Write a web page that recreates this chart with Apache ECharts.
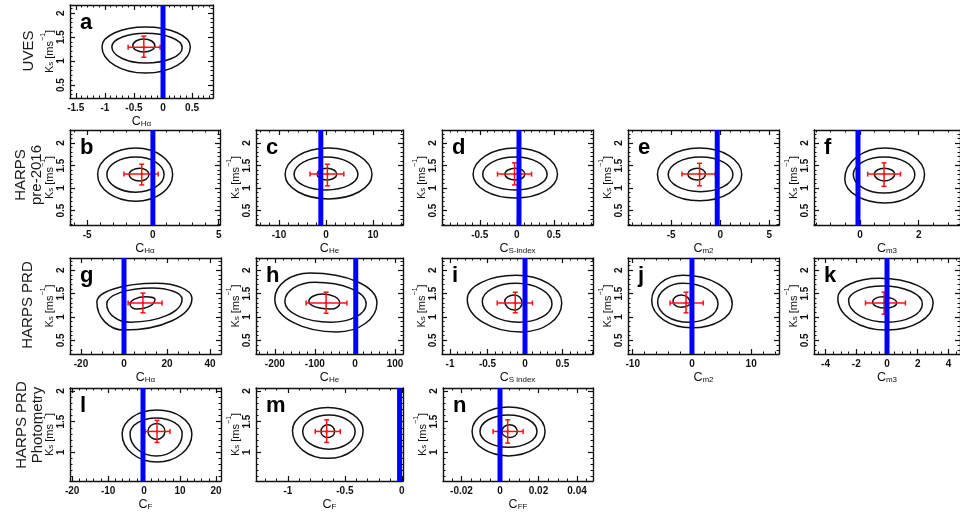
<!DOCTYPE html>
<html>
<head>
<meta charset="utf-8">
<script src="https://cdn.jsdelivr.net/npm/echarts@6/dist/echarts.min.js"></script>
<style>
  html, body { margin: 0; padding: 0; background: #fff; }
  #chart { width: 960px; height: 512px; }
</style>
</head>
<body>
<div id="chart"></div>
<script>
// ---- values read for each panel (a..n) ----
const panelLetters = ['a', 'b', 'c', 'd', 'e', 'f', 'g', 'h', 'i', 'j', 'k', 'l', 'm', 'n'];
const panelRow = [0, 1, 1, 1, 1, 1, 2, 2, 2, 2, 2, 3, 3, 3];
const rowTitles = [['UVES'], ['HARPS', 'pre-2016'], ['HARPS PRD'], ['HARPS PRD', 'Photometry']];
const xSubscripts = ['Hα', 'Hα', 'He', 'S-index', 'm2', 'm3', 'Hα', 'He', 'S index', 'm2', 'm3', 'F', 'F', 'FF'];

const xLimits = [
  [-1.6, 0.86], [-6.3, 5.1], [-14.9, 16.4], [-1.01, 1.03], [-9.4, 6.0], [-1.57, 3.41],
  [-25.1, 45.1], [-247, 120], [-1.107, 0.907], [-10.8, 14.7], [-4.75, 4.75],
  [-20.6, 21.4], [-1.28, 0.01], [-0.0296, 0.0483]
];
const xTickLabels = [
  [-1.5, -1, -0.5, 0, 0.5], [-5, 0, 5], [-10, 0, 10], [-0.5, 0, 0.5], [-5, 0, 5], [0, 2],
  [-20, 0, 20, 40], [-200, -100, 0, 100], [-1, -0.5, 0, 0.5], [-10, 0, 10], [-4, -2, 0, 2, 4],
  [-20, -10, 0, 10, 20], [-1, -0.5, 0], [-0.02, 0, 0.02, 0.04]
];
const xMinorSteps = [0.1, 1, 2, 0.1, 1, 0.5, 5, 20, 0.1, 2, 0.5, 2, 0.1, 0.005];

const yLimits = [[0.23, 2.17], [0.18, 2.29], [0.21, 2.26], [0.53, 2.05]];
const yTickLabels = [[0.5, 1, 1.5, 2], [0.5, 1, 1.5, 2], [0.5, 1, 1.5, 2], [1, 1.5, 2]];
const yMinorStep = 0.1;

// coefficient value of zero correlation (blue line)
const zeroLines = [0, 0, -1.1, 0.03, -0.3, -0.07, 0, 2, 0, 0, 0, -0.3, -0.02, 0];

// best estimate: [c, Ks, cLow, cHigh, KsLow, KsHigh]
const bestFit = [
  [-0.33, 1.29, -0.6, -0.05, 1.08, 1.52],
  [-0.85, 1.31, -2.2, 0.4, 1.07, 1.53],
  [0.3, 1.31, -3.4, 3.8, 1.05, 1.53],
  [-0.03, 1.31, -0.26, 0.2, 1.07, 1.56],
  [-2.1, 1.31, -3.9, -0.5, 1.05, 1.55],
  [0.82, 1.31, 0.26, 1.38, 1.04, 1.56],
  [8.8, 1.3, 1.9, 17.7, 1.09, 1.51],
  [-72, 1.3, -122, -20, 1.08, 1.53],
  [-0.13, 1.3, -0.37, 0.1, 1.09, 1.53],
  [-1.0, 1.3, -3.7, 1.9, 1.09, 1.53],
  [-0.19, 1.3, -1.4, 1.2, 1.06, 1.53],
  [3.6, 1.34, 0.3, 7.2, 1.16, 1.52],
  [-0.66, 1.34, -0.76, -0.54, 1.16, 1.53],
  [0.004, 1.34, -0.0036, 0.012, 1.15, 1.53]
];

// credible-region contours, extreme points: [xLeft, yLeft, xTop, yTop, xRight, yRight, xBottom, yBottom]
const contourOuter = [
  [-1.05, 1.3, -0.3, 1.71, 0.47, 1.3, -0.3, 0.75],
  [-4.2, 1.3, -1.3, 1.89, 1.5, 1.3, -1.3, 0.71],
  [-8.7, 1.3, 0.5, 1.89, 9.8, 1.3, 0.5, 0.76],
  [-0.59, 1.3, -0.02, 1.89, 0.55, 1.3, -0.02, 0.78],
  [-6.4, 1.3, -2.1, 1.89, 2.2, 1.3, -2.1, 0.72],
  [-0.52, 1.2, 0.85, 1.89, 2.2, 1.3, 0.85, 0.67],
  [-12.6, 1.32, 15, 1.72, 31.6, 1.4, 0, 0.72],
  [-200, 1.38, -112, 1.94, 55, 1.3, -45, 0.68],
  [-0.77, 1.38, -0.12, 1.89, 0.49, 1.3, -0.05, 0.68],
  [-6.8, 1.35, -1.5, 1.89, 6.8, 1.28, 0, 0.77],
  [-3.2, 1.4, -0.5, 1.83, 3.0, 1.3, 0, 0.72],
  [-6.1, 1.3, 3.6, 1.69, 13.3, 1.3, 3.6, 0.84],
  [-0.96, 1.35, -0.65, 1.73, -0.34, 1.35, -0.65, 0.9],
  [-0.0145, 1.34, 0.0045, 1.74, 0.0234, 1.34, 0.0045, 0.94]
];
const contourMiddle = [
  [-0.88, 1.3, -0.3, 1.58, 0.33, 1.28, -0.3, 0.96],
  [-3.5, 1.3, -1.3, 1.69, 0.85, 1.3, -1.3, 0.91],
  [-6.8, 1.3, 0, 1.69, 6.8, 1.3, 0, 0.96],
  [-0.46, 1.3, -0.02, 1.69, 0.41, 1.3, -0.02, 0.96],
  [-5.3, 1.3, -2.0, 1.69, 1.3, 1.3, -2.0, 0.92],
  [-0.23, 1.3, 0.82, 1.69, 1.87, 1.3, 0.82, 0.89],
  [-8, 1.28, 13, 1.62, 27, 1.38, 3, 0.89],
  [-175, 1.33, -100, 1.74, 28, 1.28, -60, 0.89],
  [-0.57, 1.33, -0.12, 1.72, 0.36, 1.28, -0.08, 0.89],
  [-5.8, 1.32, -1.5, 1.72, 4.4, 1.28, -0.5, 0.89],
  [-2.5, 1.35, -0.3, 1.66, 2.3, 1.28, 0, 0.89],
  [-3.9, 1.3, 3.4, 1.56, 10.6, 1.3, 3.4, 0.94],
  [-0.87, 1.34, -0.64, 1.61, -0.41, 1.34, -0.64, 1.05],
  [-0.0104, 1.34, 0.0044, 1.61, 0.0192, 1.34, 0.0044, 1.08]
];
const contourInner = [
  [-0.52, 1.32, -0.33, 1.46, -0.14, 1.32, -0.33, 1.19],
  [-1.8, 1.3, -1.0, 1.44, -0.3, 1.3, -1.0, 1.16],
  [-1.9, 1.31, 0.2, 1.44, 2.3, 1.31, 0.2, 1.18],
  [-0.16, 1.31, -0.02, 1.44, 0.11, 1.31, -0.02, 1.18],
  [-3.3, 1.31, -2.3, 1.44, -1.5, 1.31, -2.3, 1.18],
  [0.49, 1.31, 0.83, 1.44, 1.18, 1.31, 0.83, 1.16],
  [2.8, 1.27, 10, 1.43, 14.4, 1.38, 6, 1.17],
  [-115, 1.33, -80, 1.49, -38, 1.3, -60, 1.17],
  [-0.27, 1.33, -0.14, 1.47, -0.04, 1.3, -0.14, 1.15],
  [-3.2, 1.33, -1.8, 1.47, -0.3, 1.3, -1.8, 1.21],
  [-0.94, 1.32, -0.3, 1.43, 0.63, 1.3, -0.1, 1.19],
  [1.1, 1.34, 3.5, 1.47, 5.8, 1.34, 3.5, 1.21],
  [-0.71, 1.34, -0.65, 1.45, -0.59, 1.34, -0.65, 1.24],
  [0.001, 1.34, 0.005, 1.45, 0.009, 1.34, 0.005, 1.24]
];

// ---- layout of the panel frames: [left, top, width, height] in px ----
const frames = [
  [70, 5, 143, 93],
  [70, 130, 150, 95], [256, 130, 147, 95], [442, 130, 151, 95], [628, 130, 151, 95], [814, 130, 152, 95],
  [70, 258, 151, 96], [256, 258, 147, 96], [442, 258, 151, 96], [628, 258, 151, 96], [814, 258, 152, 96],
  [70, 388, 151, 94], [256, 388, 147, 94], [443, 388, 150, 94]
];
const rowTitlePos = [[29, 51], [29, 175], [28, 305], [30, 425]];

const FONT = '"Liberation Sans", Arial, Helvetica, sans-serif';
const INK = '#111';
const RED = '#ff1010';
const BLUE = '#0000ff';

function minorValues(lim, step) {
  const out = [];
  let v = Math.ceil(lim[0] / step - 1e-9);
  for (; v * step <= lim[1] + 1e-12; v++) out.push(+(v * step).toFixed(8));
  return out;
}

function frameAxes(grid, lim, majors, minors, side, withLabels, name, isY) {
  const base = {
    gridIndex: grid, type: 'value', min: lim[0], max: lim[1], position: side,
    splitLine: { show: false }, axisPointer: { show: false }, silent: true
  };
  const major = Object.assign({}, base, {
    axisLine: { show: true, onZero: false, lineStyle: { color: INK, width: 1.4 } },
    axisTick: { show: true, inside: true, length: 5, customValues: majors, lineStyle: { color: INK, width: 1.2 } },
    axisLabel: withLabels ? {
      show: true, customValues: majors, margin: isY ? 4 : 5, rotate: isY ? 90 : 0,
      fontFamily: FONT, fontSize: 10, fontWeight: 'bold', color: INK
    } : { show: false }
  });
  if (withLabels && name) {
    major.name = name.text;
    major.nameLocation = 'middle';
    major.nameGap = name.gap;
    major.nameRotate = isY ? 90 : 0;
    major.nameTextStyle = { fontFamily: FONT, color: INK, rich: name.rich };
  }
  const minor = Object.assign({}, base, {
    axisLine: { show: false, onZero: false },
    axisTick: { show: true, inside: true, length: 2.5, customValues: minors, lineStyle: { color: INK, width: 1 } },
    axisLabel: { show: false }
  });
  return [major, minor];
}

const xNameRich = {
  c: { fontFamily: FONT, fontSize: 12.5, lineHeight: 16, verticalAlign: 'bottom', color: INK },
  s: { fontFamily: FONT, fontSize: 8, lineHeight: 6, verticalAlign: 'bottom', color: INK }
};
const yNameRich = {
  k: { fontFamily: FONT, fontSize: 11, lineHeight: 16, verticalAlign: 'bottom', color: INK },
  s: { fontFamily: FONT, fontSize: 8, lineHeight: 6, verticalAlign: 'bottom', color: INK },
  p: { fontFamily: FONT, fontSize: 7, lineHeight: 7, verticalAlign: 'top', color: INK }
};
const yNameText = '{k|K}{s|s}{k| [ms}{p|−1}{k|]}';

// closed curve through the four extreme points of a contour
function renderContour(params, api) {
  const L = api.coord([api.value(0), api.value(1)]);
  const T = api.coord([api.value(2), api.value(3)]);
  const R = api.coord([api.value(4), api.value(5)]);
  const B = api.coord([api.value(6), api.value(7)]);
  const k = 0.5523;
  const f = (v) => v.toFixed(2);
  const d =
    'M' + f(L[0]) + ',' + f(L[1]) +
    ' C' + f(L[0]) + ',' + f(L[1] + k * (T[1] - L[1])) + ' ' + f(T[0] + k * (L[0] - T[0])) + ',' + f(T[1]) + ' ' + f(T[0]) + ',' + f(T[1]) +
    ' C' + f(T[0] + k * (R[0] - T[0])) + ',' + f(T[1]) + ' ' + f(R[0]) + ',' + f(R[1] + k * (T[1] - R[1])) + ' ' + f(R[0]) + ',' + f(R[1]) +
    ' C' + f(R[0]) + ',' + f(R[1] + k * (B[1] - R[1])) + ' ' + f(B[0] + k * (R[0] - B[0])) + ',' + f(B[1]) + ' ' + f(B[0]) + ',' + f(B[1]) +
    ' C' + f(B[0] + k * (L[0] - B[0])) + ',' + f(B[1]) + ' ' + f(L[0]) + ',' + f(L[1] + k * (B[1] - L[1])) + ' ' + f(L[0]) + ',' + f(L[1]) + ' Z';
  return { type: 'path', shape: { pathData: d }, style: { fill: 'none', stroke: INK, lineWidth: 1.5 } };
}

// red cross with capped error bars
function renderEstimate(params, api) {
  const c = api.coord([api.value(0), api.value(1)]);
  const xl = api.coord([api.value(2), api.value(1)]);
  const xh = api.coord([api.value(3), api.value(1)]);
  const yl = api.coord([api.value(0), api.value(4)]);
  const yh = api.coord([api.value(0), api.value(5)]);
  const st = { stroke: RED, lineWidth: 1.5 };
  const cap = 2.5;
  const seg = (x1, y1, x2, y2) => ({ type: 'line', shape: { x1, y1, x2, y2 }, style: st });
  return {
    type: 'group',
    children: [
      seg(xl[0], c[1], xh[0], c[1]),
      seg(c[0], yl[1], c[0], yh[1]),
      seg(xl[0], c[1] - cap, xl[0], c[1] + cap),
      seg(xh[0], c[1] - cap, xh[0], c[1] + cap),
      seg(c[0] - cap, yl[1], c[0] + cap, yl[1]),
      seg(c[0] - cap, yh[1], c[0] + cap, yh[1]),
      { type: 'circle', shape: { cx: c[0], cy: c[1], r: 1.3 }, style: { fill: RED } }
    ]
  };
}

// full-height blue line at the zero-correlation value
function renderZeroLine(params, api) {
  const cs = params.coordSys;
  const x = api.coord([api.value(0), api.value(1)])[0];
  return {
    type: 'line',
    shape: { x1: x, y1: cs.y, x2: x, y2: cs.y + cs.height },
    style: { stroke: BLUE, lineWidth: 5 }
  };
}

const grids = [], xAxes = [], yAxes = [], series = [], graphics = [];

panelLetters.forEach((letter, p) => {
  const fr = frames[p];
  const row = panelRow[p];
  grids.push({ left: fr[0], top: fr[1], width: fr[2], height: fr[3], containLabel: false, show: false });

  const xl = xLimits[p], yl = yLimits[row];
  const xMinor = minorValues(xl, xMinorSteps[p]);
  const yMinor = minorValues(yl, yMinorStep);

  const xName = { text: '{c|C}{s|' + xSubscripts[p] + '}', gap: 14, rich: xNameRich };
  const yName = { text: yNameText, gap: 14, rich: yNameRich };

  const bx = frameAxes(p, xl, xTickLabels[p], xMinor, 'bottom', true, xName, false);
  const tx = frameAxes(p, xl, xTickLabels[p], xMinor, 'top', false, null, false);
  const ly = frameAxes(p, yl, yTickLabels[row], yMinor, 'left', true, yName, true);
  const ry = frameAxes(p, yl, yTickLabels[row], yMinor, 'right', false, null, true);
  const xi = xAxes.length, yi = yAxes.length;
  xAxes.push(...bx, ...tx);
  yAxes.push(...ly, ...ry);

  series.push({
    type: 'custom', xAxisIndex: xi, yAxisIndex: yi, silent: true, z: 2,
    dimensions: ['xl', 'yl', 'xt', 'yt', 'xr', 'yr', 'xb', 'yb'],
    encode: { x: [0, 2, 4, 6], y: [1, 3, 5, 7] },
    renderItem: renderContour,
    data: [contourOuter[p], contourMiddle[p], contourInner[p]]
  });
  series.push({
    type: 'custom', xAxisIndex: xi, yAxisIndex: yi, silent: true, z: 3,
    dimensions: ['c', 'k', 'cl', 'ch', 'kl', 'kh'],
    encode: { x: [0, 2, 3], y: [1, 4, 5] },
    renderItem: renderEstimate,
    data: [bestFit[p]]
  });
  series.push({
    type: 'custom', xAxisIndex: xi, yAxisIndex: yi, silent: true, z: 4,
    renderItem: renderZeroLine,
    data: [[zeroLines[p], yl[0]]]
  });

  graphics.push({
    type: 'text', x: fr[0] + 10, y: fr[1] + 29, silent: true, z: 10,
    style: {
      text: letter, font: 'bold 22px ' + FONT, fill: '#000',
      align: 'left', verticalAlign: 'bottom', textAlign: 'left', textVerticalAlign: 'bottom'
    }
  });
});

rowTitles.forEach((lines, r) => {
  graphics.push({
    type: 'text', x: rowTitlePos[r][0], y: rowTitlePos[r][1], rotation: Math.PI / 2, silent: true,
    style: {
      text: lines.join('\n'), font: '15px ' + FONT, fill: '#1a1a1a', lineHeight: 16,
      align: 'center', verticalAlign: 'middle', textAlign: 'center', textVerticalAlign: 'middle'
    }
  });
});

const chart = echarts.init(document.getElementById('chart'), null, { renderer: 'canvas' });
chart.setOption({
  backgroundColor: '#ffffff',
  animation: false,
  grid: grids,
  xAxis: xAxes,
  yAxis: yAxes,
  series: series,
  graphic: graphics
});
</script>
</body>
</html>
